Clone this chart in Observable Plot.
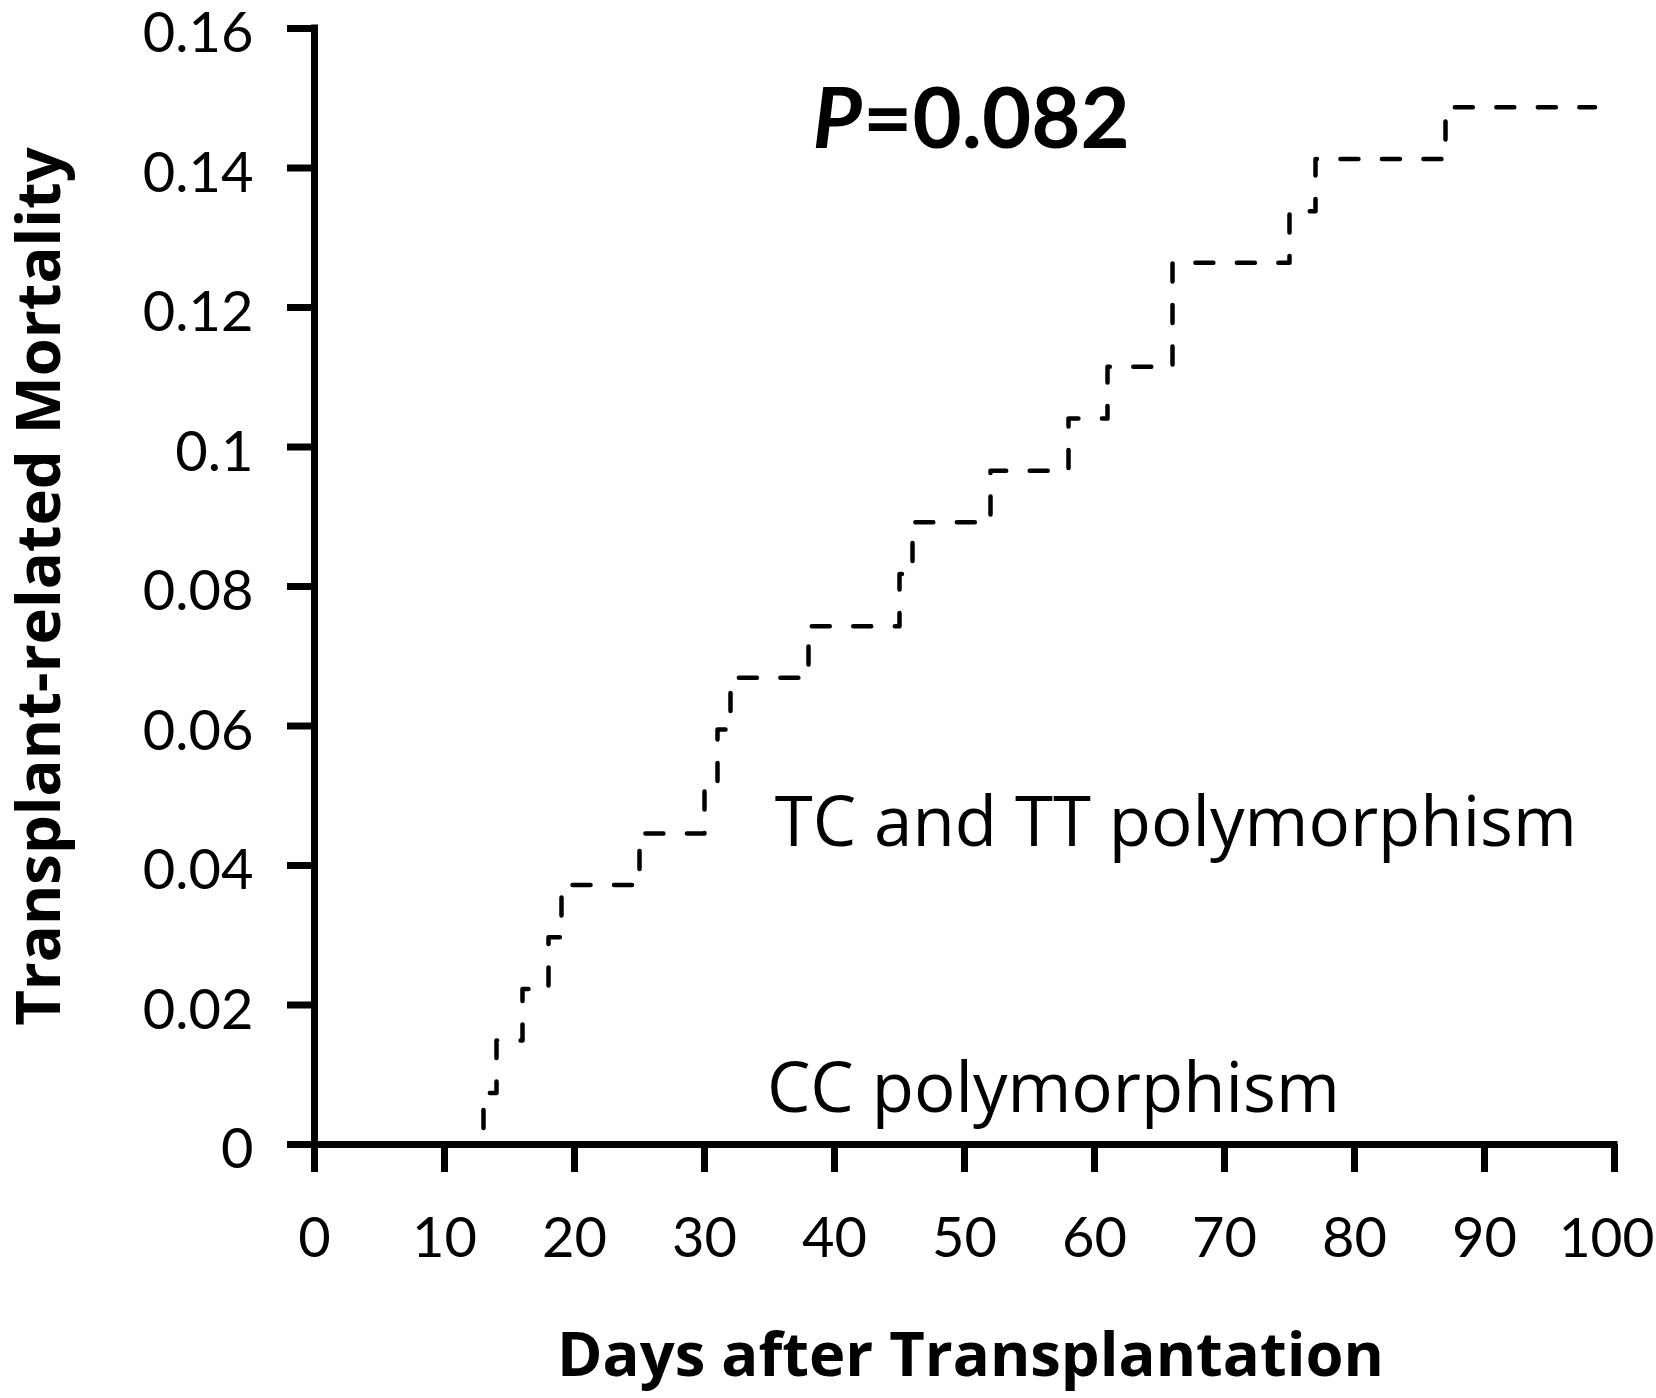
<!DOCTYPE html>
<html>
<head>
<meta charset="utf-8">
<script src="https://cdn.jsdelivr.net/npm/d3@7"></script>
<script src="https://cdn.jsdelivr.net/npm/@observablehq/plot@0.6"></script>
<style>
  html, body { margin: 0; padding: 0; background: #fff; overflow: hidden; }
  #chart svg { display: block; }
</style>
</head>
<body>
<div id="chart"></div>
<script>
// ---- data ----
const tcDays  = [0, 13, 14, 16, 18, 19, 25, 30, 31, 32, 38, 45, 46, 52, 58, 61, 66, 75, 77, 87, 98.5];
const tcValue = [0, 0.0074, 0.0149, 0.0223, 0.0297, 0.0372, 0.0446, 0.0520, 0.0595, 0.0669, 0.0743,
                 0.0818, 0.0892, 0.0966, 0.1041, 0.1115, 0.1264, 0.1338, 0.1413, 0.1487, 0.1487];
const ccDays  = [0, 98.5];
const ccValue = [0, 0];

const xTicks = [0, 10, 20, 30, 40, 50, 60, 70, 80, 90, 100];
const xTickLabels = ["0", "10", "20", "30", "40", "50", "60", "70", "80", "90", "100"];
const yTicks = [0, 0.02, 0.04, 0.06, 0.08, 0.1, 0.12, 0.14, 0.16];
const yTickLabels = ["0", "0.02", "0.04", "0.06", "0.08", "0.1", "0.12", "0.14", "0.16"];

const xTitle = "Days after Transplantation";
const yTitle = "Transplant-related Mortality";
const groupLabels = [
  {day: 35.4, value: 0.0460, text: "TC and TT polymorphism"},
  {day: 34.8, value: 0.0078, text: "CC polymorphism"}
];
const pLabel = {day: 38.3, dayEq: 42.2, value: 0.1467, p: "P", rest: "=0.082"};

// ---- build tables ----
const tcData = tcDays.map((d, i) => ({day: d, value: tcValue[i]}));
const ccData = ccDays.map((d, i) => ({day: d, value: ccValue[i]}));
const xLab = new Map(xTicks.map((t, i) => [t, xTickLabels[i]]));
const yLab = new Map(yTicks.map((t, i) => [t, yTickLabels[i]]));
const xTicksMain = xTicks.slice(0, -1);
const xTicksLast = xTicks.slice(-1);

const font = "Lato, 'Open Sans', sans-serif";
const wideFont = "'Open Sans', Lato, sans-serif";

const chart = Plot.plot({
  width: 1656,
  height: 1398,
  marginLeft: 314,
  marginRight: 42,
  marginTop: 28,
  marginBottom: 254,
  style: {fontFamily: font, color: "#000", background: "#fff"},
  x: {domain: [0, 100]},
  y: {domain: [0, 0.16]},
  marks: [
    // CC line (lies on the axis)
    Plot.line(ccData, {x: "day", y: "value", stroke: "#000", strokeWidth: 4.5}),
    // TC and TT dashed step line
    Plot.line(tcData, {
      x: "day", y: "value", curve: "step-after",
      stroke: "#000", strokeWidth: 4.5,
      strokeDasharray: "18,23.5", strokeDashoffset: 22,
      strokeLinecap: "round", strokeLinejoin: "round"
    }),
    // axis lines
    Plot.ruleX([0], {stroke: "#000", strokeWidth: 7, strokeLinecap: "square"}),
    Plot.ruleY([0], {stroke: "#000", strokeWidth: 7, strokeLinecap: "square"}),
    // ticks
    Plot.axisX({ticks: xTicks, tickSize: 28, strokeWidth: 7, fill: "none", label: null}),
    Plot.axisY({ticks: yTicks, tickSize: 27, strokeWidth: 7, fill: "none", label: null}),
    // tick labels
    Plot.axisX({ticks: xTicksMain, tickSize: 28, tickPadding: 45, stroke: "none", fill: "#000",
      tickFormat: d => xLab.get(d), fontSize: 56, label: null}),
    Plot.axisX({ticks: xTicksLast, tickSize: 28, tickPadding: 45, stroke: "none", fill: "#000", dx: -8,
      tickFormat: d => xLab.get(d), fontSize: 55, label: null}),
    Plot.axisY({ticks: yTicks, tickSize: 27, tickPadding: 34, stroke: "none", fill: "#000", dy: 6,
      tickFormat: d => yLab.get(d), fontSize: 56, label: null}),
    // axis titles
    Plot.text([xTitle], {frameAnchor: "bottom", textAnchor: "middle", lineAnchor: "middle",
      dy: 212, dx: 6, fontSize: 61.5, fontWeight: "bold", fontFamily: wideFont, fill: "#000"}),
    Plot.text([yTitle], {frameAnchor: "left", textAnchor: "middle", lineAnchor: "middle",
      dx: -274, rotate: -90, fontSize: 61.5, fontWeight: "bold", fontFamily: wideFont, fill: "#000"}),
    // group labels
    Plot.text(groupLabels, {x: "day", y: "value", text: "text", textAnchor: "start", lineAnchor: "middle",
      fontSize: 69, fontFamily: wideFont, fill: "#000"}),
    // P value
    Plot.text([pLabel], {x: "day", y: "value", text: "p", textAnchor: "start", lineAnchor: "middle",
      fontSize: 85, fontWeight: "bold", fontStyle: "italic", fill: "#000"}),
    Plot.text([pLabel], {x: "dayEq", y: "value", text: "rest", textAnchor: "start", lineAnchor: "middle",
      fontSize: 85, fontWeight: "bold", fill: "#000"})
  ]
});

document.getElementById("chart").appendChild(chart);
</script>
</body>
</html>
